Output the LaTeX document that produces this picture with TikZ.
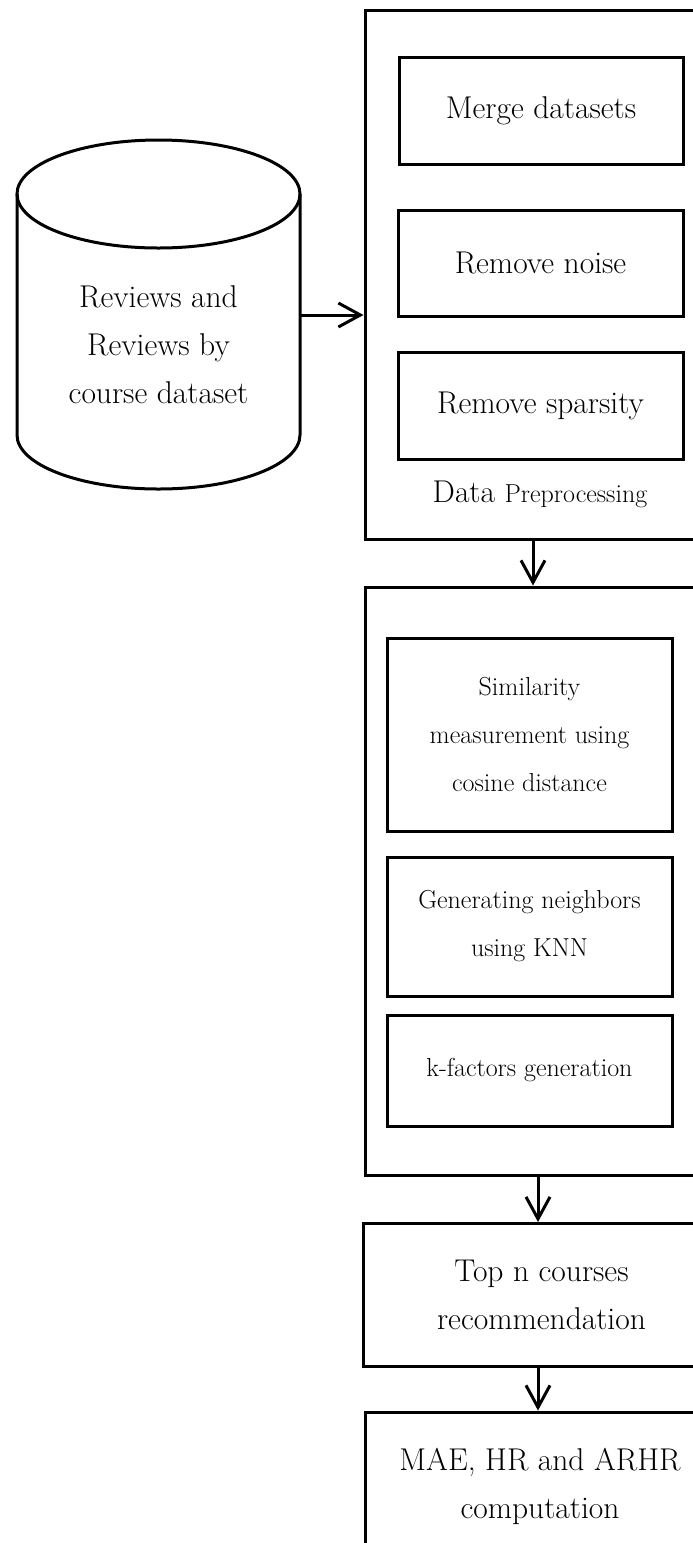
\documentclass[tikz,border=0pt]{standalone}
\usetikzlibrary{arrows.meta}
\begin{document}
\begin{tikzpicture}[x=1pt,y=-1pt,
  lw/.style={line width=3pt},
  box/.style={draw,lw,rectangle,inner sep=0pt,align=center},
  bigtxt/.style={font=\fontsize{31.5}{48}\selectfont},
  smalltxt/.style={font=\fontsize{26}{48}\selectfont},
  arr/.style={lw,-{Straight Barb[length=22pt,width=24pt,line width=3pt]}}]
\fill[white] (0,0) rectangle (693,1543);
\useasboundingbox (0,0) rectangle (693,1543);
\clip (0,0) rectangle (693,1543);
% cylinder
\draw[lw] (158.5,194) ellipse [x radius=141.5, y radius=54];
\draw[lw] (17,194) -- (17,435) arc[start angle=180,end angle=0,x radius=141.5,y radius=54] -- (300,194);
\node[bigtxt,align=center] (db) at (158.5,345) {Reviews and\\Reviews by\\course dataset};
\coordinate (dbr) at (300,315);
% outer boxes
\node[box,minimum width=355pt,minimum height=529pt] (pre) at (542.5,274.5) {};
\node[box,minimum width=355pt,minimum height=588pt] (sim) at (542.5,881) {};
\node[box,bigtxt,minimum width=357pt,minimum height=143pt] (top) at (541.5,1295) {Top n courses\\recommendation};
\node[box,bigtxt,minimum width=355pt,minimum height=188pt] (mae) at (542.5,1506) {};
\node[bigtxt,align=center] (maet) at (540,1486) {MAE, HR and ARHR\\computation};
% inner boxes
\node[box,bigtxt,minimum width=284pt,minimum height=107pt] (merge) at (541,110.5) {Merge datasets};
\node[box,bigtxt,minimum width=285pt,minimum height=106pt] (noise) at (540.5,263) {Remove noise};
\node[box,bigtxt,minimum width=285pt,minimum height=107pt] (spars) at (540.5,405.5) {Remove sparsity};
\node (prelbl) at (540,494) {\fontsize{31.5}{34}\selectfont Data \fontsize{26}{34}\selectfont Preprocessing};
\node[box,smalltxt,minimum width=285pt,minimum height=193pt] (cos) at (529.5,734.5) {Similarity\\measurement using\\cosine distance};
\node[box,smalltxt,minimum width=285pt,minimum height=139pt] (knn) at (529.5,926.5) {Generating neighbors\\using KNN};
\node[box,smalltxt,minimum width=285pt,minimum height=111pt] (kf) at (529.5,1070.5) {k-factors generation};
% arrows
\draw[arr] (dbr) -- (pre.west |- dbr);
\draw[arr] ([xshift=-9.5pt]pre.south) -- ([xshift=-9.5pt]sim.north);
\draw[arr] ([xshift=-4.5pt]sim.south) -- ([xshift=-3.5pt]top.north);
\draw[arr] ([xshift=-3.5pt]top.south) -- ([xshift=-4.5pt]mae.north);
\end{tikzpicture}
\end{document}
